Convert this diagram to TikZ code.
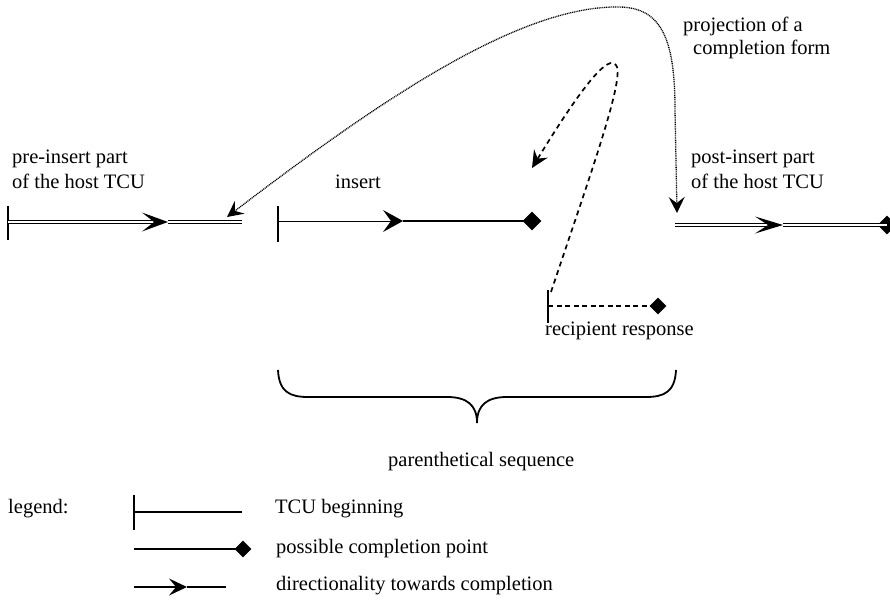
\documentclass[tikz,border=0pt]{standalone}
\usepackage{fontspec}
\setmainfont{Liberation Serif}
\usetikzlibrary{arrows.meta,shapes.geometric,calc}
\tikzset{
  projtip/.tip={Stealth[length=16pt, width=16pt, inset=6pt, color=black]},
  resptip/.tip={Stealth[length=17pt, width=16pt, inset=6pt]}
}
\begin{document}
\begin{tikzpicture}[x=1pt,y=-1pt,
  lab/.style={inner sep=0pt, anchor=base west, font=\fontsize{20.5}{24}\selectfont},
  dbl/.style={double=white, double distance=1.8pt, line width=1.5pt},
  teebar/.style={line width=1.5pt},
  endpt/.style={diamond, fill=black, inner sep=0pt, minimum width=19pt, minimum height=19pt},
  smallend/.style={diamond, fill=black, inner sep=0pt, minimum width=17pt, minimum height=17pt},
  projline/.style={line width=1.3pt, dash pattern=on 1pt off 0.8pt, black},
  respline/.style={line width=1.7pt, dash pattern=on 5pt off 4pt},
  bracestyle/.style={line width=1.8pt}
]
\useasboundingbox (0,0) rectangle (890,599);

% ---------- pre-insert part ----------
\node[lab] (preA) at (12,163) {pre-insert part};
\node[lab] (preB) at (12,188) {of the host TCU};
\coordinate (Lt) at (8,206);
\coordinate (Lb) at (8,240);
\coordinate (L0) at (8,222);
\coordinate (Lm) at (168,222);
\coordinate (L1) at (242,222);
\draw[teebar] (Lt) -- (Lb);
\draw[dbl, shorten >=12pt] (L0) -- (Lm);
\draw[dbl] (Lm) -- (L1);
\fill (Lm) -- ++(-26,-9.5) -- ++(12,9.5) -- ++(-12,9.5) -- cycle;

% ---------- insert ----------
\node[lab] (ins) at (335,188) {insert};
\coordinate (It) at (278,206);
\coordinate (Ib) at (278,242);
\coordinate (I0) at (278,221);
\coordinate (Im) at (403,221);
\node[endpt] (Id) at (532,221) {};
\draw[teebar] (It) -- (Ib);
\draw[line width=1pt, shorten >=6pt] (I0) -- (Im);
\draw[line width=2pt] (Im) -- (Id.center);
\fill (Im) -- ++(-20,-11) -- ++(8,11) -- ++(-8,11) -- cycle;

% ---------- post-insert part ----------
\node[lab] (postA) at (691,163) {post-insert part};
\node[lab] (postB) at (691,188) {of the host TCU};
\coordinate (R0) at (675,225);
\coordinate (Rm) at (783,225);
\node[endpt] (Rd) at (887,225) {};
\draw[dbl, shorten >=12pt] (R0) -- (Rm);
\draw[dbl] (Rm) -- (Rd.center);
\fill (Rm) -- ++(-28,-8.5) -- ++(13,8.5) -- ++(-13,8.5) -- cycle;

% ---------- projection ----------
\node[lab] (projA) at (683,32) {projection of a};
\node[lab] (projB) at (693,55) {completion form};
\coordinate (pL) at (227,217);
\coordinate (pTop) at (620,7);
\coordinate (pR) at (677,213);
\draw[projline, {projtip}-{projtip}] (pL) .. controls (380,100) and (520,5) .. (pTop)
   .. controls (662,8) and (675,40) .. (675,110) -- (pR);

% ---------- recipient response ----------
\coordinate (Ct) at (548,290);
\coordinate (Cb) at (548,323);
\coordinate (C0) at (548,306);
\node[smallend] (Cd) at (658,306) {};
\draw[teebar] (Ct) -- (Cb);
\draw[line width=1.3pt, dash pattern=on 5pt off 3.5pt] (C0) -- (Cd.center);
\node[lab] (resp) at (545,335) {recipient response};
\coordinate (dA) at (551,292);
\coordinate (dApex) at (617,67);
\coordinate (dTip) at (532,168);
\draw[respline, -{resptip}] (dA) .. controls (585,190) and (623,85) .. (dApex)
   .. controls (612,55) and (595,65) .. (dTip);

% ---------- brace ----------
\coordinate (bL) at (278,370);
\coordinate (bM) at (477,423);
\coordinate (bR) at (676,370);
\draw[bracestyle] (bL) .. controls (279,392) and (290,397) .. (308,397) -- (447,397)
   .. controls (467,397) and (477,405) .. (bM)
   .. controls (477,405) and (487,397) .. (507,397) -- (646,397)
   .. controls (664,397) and (675,392) .. (bR);
\node[lab] (paren) at (388,466) {parenthetical sequence};

% ---------- legend ----------
\node[lab] (leg) at (8,513) {legend:};
\coordinate (gTt) at (134,495);
\coordinate (gTb) at (134,530);
\coordinate (gT0) at (134,512);
\coordinate (gT1) at (242,512);
\draw[teebar] (gTt) -- (gTb);
\draw[line width=1.5pt] (gT0) -- (gT1);
\node[lab] (legA) at (275,513) {TCU beginning};

\coordinate (gD0) at (134,549);
\node[smallend] (gDd) at (243,549) {};
\draw[line width=1.5pt] (gD0) -- (gDd.center);
\node[lab] (legB) at (276,553) {possible completion point};

\coordinate (gA0) at (134,587);
\coordinate (gAm) at (187,587);
\coordinate (gA1) at (226,587);
\draw[line width=1.5pt, shorten >=6pt] (gA0) -- (gAm);
\draw[line width=1.5pt] (gAm) -- (gA1);
\fill (gAm) -- ++(-18,-8.5) -- ++(7,8.5) -- ++(-7,8.5) -- cycle;
\node[lab] (legC) at (276,590) {directionality towards completion};
\end{tikzpicture}
\end{document}
